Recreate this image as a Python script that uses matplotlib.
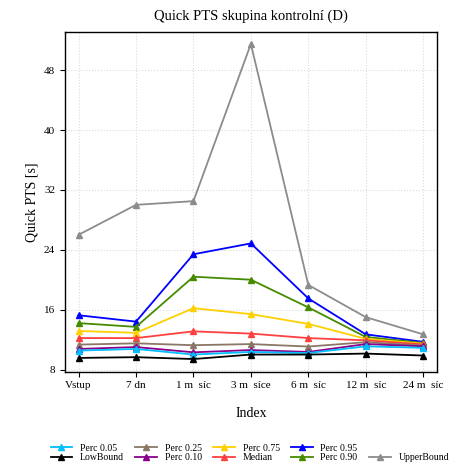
import matplotlib
matplotlib.use('Agg')
import matplotlib.pyplot as plt
from matplotlib.lines import Line2D

plt.rcParams['font.family'] = ['Liberation Serif', 'DejaVu Serif']

labels = ['Vstup', '7 dn', '1 m  síc', '3 m  síce', '6 m  síc', '12 m  síc', '24 m  síc']

upper = [26.0, 30.0, 30.5, 51.5, 19.3, 15.0, 12.7]
p95 = [15.25, 14.4, 23.4, 24.85, 17.5, 12.7, 11.7]
p90 = [14.2, 13.7, 20.4, 20.0, 16.3, 12.35, 11.55]
p75 = [13.15, 12.9, 16.2, 15.4, 14.1, 12.1, 11.45]
median = [12.2, 12.2, 13.1, 12.8, 12.2, 11.9, 11.35]
p25 = [11.33, 11.5, 11.25, 11.4, 11.07, 11.65, 11.2]
p10 = [10.75, 11.0, 10.3, 10.6, 10.35, 11.4, 11.1]
p05 = [10.53, 10.75, 10.0, 10.35, 10.2, 11.1, 10.9]
low = [9.55, 9.65, 9.4, 10.0, 10.0, 10.13, 9.87]

series = [
    ('UpperBound', upper, '#8C8C8C'),
    ('Perc 0.95', p95, '#0000FF'),
    ('Perc 0.90', p90, '#458B00'),
    ('Perc 0.75', p75, '#FFD000'),
    ('Median', median, '#FF4040'),
    ('Perc 0.25', p25, '#8B7765'),
    ('Perc 0.10', p10, '#8B008B'),
    ('Perc 0.05', p05, '#00BFFF'),
    ('LowBound', low, '#000000'),
]

fig = plt.figure(figsize=(4.5, 4.7), dpi=100)
ax = fig.add_axes([0.144, 0.209, 0.827, 0.723])

x = list(range(len(labels)))
handles = {}
for name, vals, col in series:
    h, = ax.plot(x, vals, color=col, marker='^', markersize=4, linewidth=1.3)
    handles[name] = h

ax.set_xlim(-0.24, 6.24)
ax.set_ylim(7.7, 53.1)
ax.set_xticks(x)
ax.set_xticklabels(labels, fontsize=8)
ax.set_yticks([8, 16, 24, 32, 40, 48])
ax.tick_params(axis='y', labelsize=8)
ax.grid(True, color='#DADADA', linestyle=':', linewidth=0.8)
for s in ax.spines.values():
    s.set_linewidth(1.0)

ax.set_title('Quick PTS skupina kontrolní (D)', fontsize=10.5, pad=9)
ax.set_xlabel('Index', fontsize=10, labelpad=12)
ax.set_ylabel('Quick PTS [s]', fontsize=10)

blank = Line2D([], [], color='none')
order = ['Perc 0.05', 'LowBound', 'Perc 0.25', 'Perc 0.10', 'Perc 0.75',
         'Median', 'Perc 0.95', 'Perc 0.90', None, 'UpperBound']
leg_h = [handles[n] if n else blank for n in order]
leg_l = [n if n else '' for n in order]
fig.legend(leg_h, leg_l, loc='center', bbox_to_anchor=(0.555, 0.036), ncol=5,
           frameon=False, fontsize=7, handlelength=2.2, columnspacing=1.2,
           labelspacing=0.05, handletextpad=0.8)

fig.savefig('out.png', dpi=100)
